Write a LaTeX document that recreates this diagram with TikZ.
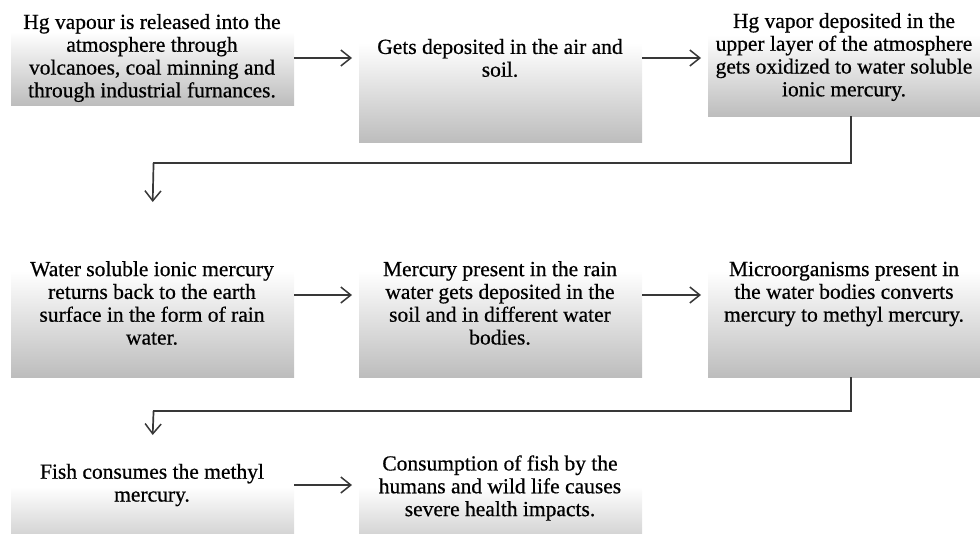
\documentclass[tikz,border=0pt]{standalone}
\usepackage{fontspec}
\setmainfont{Liberation Serif}
\newfontfamily\boxfont[FakeBold=0.6]{Liberation Serif}
\usetikzlibrary{arrows.meta}
\pgfdeclareverticalshading{boxfade}{100bp}{color(0bp)=(black!26); color(25bp)=(black!26); color(60bp)=(white); color(100bp)=(white)}
\tikzset{
  box/.style={shading=boxfade, draw=none, inner sep=0pt, anchor=north west},
  txt/.style={align=center, inner sep=0pt, font=\boxfont\fontsize{21.5}{22.8}\selectfont, text=black},
  arr/.style={draw=black!78, line width=1.7pt, -{Straight Barb[length=10pt,width=16pt,line width=1.5pt]}},
  conn/.style={draw=black!78, line width=1.7pt}
}
\begin{document}
\begin{tikzpicture}[x=1pt,y=-1pt]
\useasboundingbox (0,0) rectangle (980,533);
\clip (0,0) rectangle (980,533);
% boxes
\node[box, minimum width=283pt, minimum height=105pt] (b1) at (11,0) {};
\node[box, minimum width=283pt, minimum height=142pt] (b2) at (359,0) {};
\node[box, minimum width=280pt, minimum height=116pt] (b3) at (708,0) {};
\node[box, minimum width=283pt, minimum height=152pt] (b4) at (11,225) {};
\node[box, minimum width=283pt, minimum height=152pt] (b5) at (359,225) {};
\node[box, minimum width=280pt, minimum height=152pt] (b6) at (708,225) {};
\node[box, minimum width=283pt, minimum height=105pt] (b7) at (11,455) {};
\node[box, minimum width=283pt, minimum height=105pt] (b8) at (359,455) {};
% texts
\node[txt] (t1) at (152,58) {Hg vapour is released into the\\atmosphere through\\volcanoes, coal minning and\\through industrial furnances.};
\node[txt] (t2) at (500,58) {Gets deposited in the air and\\soil.};
\node[txt] (t3) at (844,57) {Hg vapor deposited in the\\upper layer of the atmosphere\\gets oxidized to water soluble\\ionic mercury.};
\node[txt] (t4) at (152,303) {Water soluble ionic mercury\\returns back to the earth\\surface in the form of rain\\water.};
\node[txt] (t5) at (500,303) {Mercury present in the rain\\water gets deposited in the\\soil and in different water\\bodies.};
\node[txt] (t6) at (844,294) {Microorganisms present in\\the water bodies converts\\mercury to methyl mercury.};
\node[txt] (t7) at (152,485) {Fish consumes the methyl\\mercury.};
\node[txt] (t8) at (500,488) {Consumption of fish by the\\humans and wild life causes\\severe health impacts.};
% row levels
\coordinate (r1) at (0,58);
\coordinate (r2) at (0,295);
\coordinate (r3) at (0,485);
\coordinate (c1) at (851,163);
\coordinate (c2) at (851,411);
% horizontal arrows
\draw[arr] (b1.east |- r1) -- ([xshift=-7pt]b2.west |- r1);
\draw[arr] (b2.east |- r1) -- ([xshift=-7pt]b3.west |- r1);
\draw[arr] (b4.east |- r2) -- ([xshift=-7pt]b5.west |- r2);
\draw[arr] (b5.east |- r2) -- ([xshift=-7pt]b6.west |- r2);
\draw[arr] (b7.east |- r3) -- ([xshift=-7pt]b8.west |- r3);
% return connectors
\draw[conn, line join=miter] (b3.south -| c1) -- (c1) -- (c1 -| b4.north);
\draw[arr] ([xshift=0.85pt]c1 -| b4.north) -- ([yshift=23pt]b4.north);
\draw[conn, line join=miter] (b6.south -| c2) -- (c2) -- (c2 -| b7.north);
\draw[arr] ([xshift=0.85pt]c2 -| b7.north) -- ([yshift=20pt]b7.north);
\end{tikzpicture}
\end{document}
